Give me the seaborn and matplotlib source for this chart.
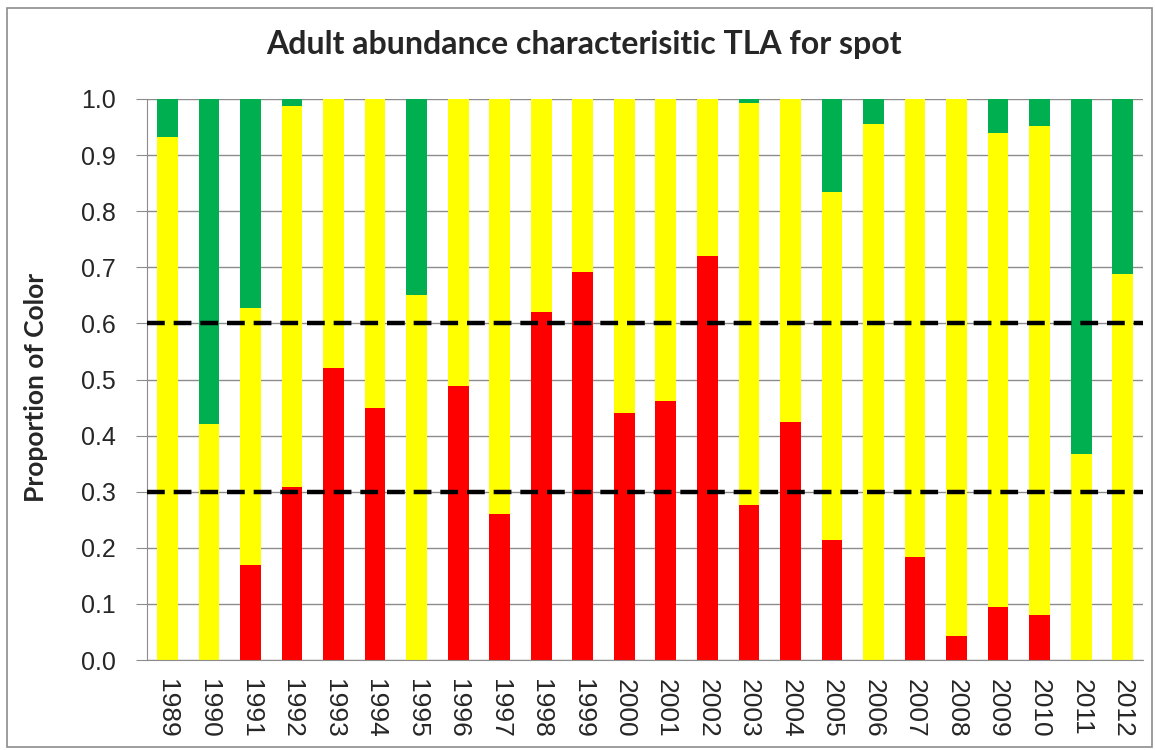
import numpy as np
import pandas as pd
import seaborn as sns
import matplotlib.pyplot as plt

# setup
sns.set_style('white')
plt.rcParams['font.family'] = ['Liberation Sans', 'DejaVu Sans']

# data (proportion of each colour per year)
years = [str(y) for y in range(1989, 2013)]
red = [0.0, 0.0, 0.169, 0.309, 0.520, 0.450, 0.0, 0.489, 0.260, 0.621, 0.691, 0.441,
       0.461, 0.721, 0.277, 0.425, 0.214, 0.0, 0.183, 0.043, 0.095, 0.081, 0.0, 0.0]
yellow = [0.933, 0.421, 0.458, 0.679, 0.480, 0.550, 0.651, 0.511, 0.740, 0.379, 0.309, 0.559,
          0.539, 0.279, 0.715, 0.575, 0.621, 0.955, 0.817, 0.957, 0.845, 0.871, 0.368, 0.688]
green = [0.067, 0.579, 0.373, 0.012, 0.0, 0.0, 0.349, 0.0, 0.0, 0.0, 0.0, 0.0,
         0.0, 0.0, 0.008, 0.0, 0.165, 0.045, 0.0, 0.0, 0.060, 0.048, 0.632, 0.312]
thresholds = [0.3, 0.6]

data = pd.DataFrame({'year': years, 'red': red, 'yellow': yellow, 'green': green})
data['top_red'] = data['red']
data['top_yellow'] = data['red'] + data['yellow']
data['top_green'] = data['top_yellow'] + data['green']

# plot
fig, ax = plt.subplots(figsize=(11.55, 7.5), dpi=100)
fig.subplots_adjust(left=0.127, right=0.99, top=0.868, bottom=0.12)

for col, colour in [('top_green', '#00B050'), ('top_yellow', '#FFFF00'), ('top_red', '#FF0000')]:
    sns.barplot(x='year', y=col, data=data, color=colour, width=0.5,
                saturation=1, edgecolor='none', ax=ax)

for t in thresholds:
    ax.axhline(t, color='black', lw=3.2, ls=(0, (4, 2)), zorder=5)

ax.set_ylim(0, 1.0)
ax.set_xlim(-0.5, len(years) - 0.5)
ax.set_yticks(np.arange(0, 1.01, 0.1))
ax.set_yticklabels([f'{v:.1f}' for v in np.arange(0, 1.01, 0.1)], fontsize=18)
ax.yaxis.grid(True, color='#8c8c8c', lw=1)
ax.set_axisbelow(True)

ax.set_xticks(np.arange(-0.5, len(years), 1.0), minor=True)
ax.set_xticklabels(years, rotation=270, fontsize=19)
ax.tick_params(axis='x', which='major', length=0, pad=14)
ax.tick_params(axis='x', which='minor', length=8, color='#8c8c8c', direction='out')
ax.tick_params(axis='y', length=8, color='#8c8c8c', direction='out', left=True, pad=14)

for side in ['top', 'right']:
    ax.spines[side].set_visible(False)
for side in ['left', 'bottom']:
    ax.spines[side].set_color('#8c8c8c')

ax.set_xlabel('')
ax.set_ylabel('')
fig.text(0.031, 0.483, 'Proportion of Color', rotation=90, ha='center', va='center',
         fontsize=19, fontweight='bold', family=['Lato', 'DejaVu Sans'])
fig.text(0.506, 0.941, 'Adult abundance characterisitic TLA for spot', ha='center',
         va='center', fontsize=23, fontweight='bold', family=['Lato', 'DejaVu Sans'])

# chart border
fig.patches.append(plt.Rectangle((0.006, 0.004), 0.991, 0.986, transform=fig.transFigure,
                                 fill=False, edgecolor='#8c8c8c', lw=1.2))

plt.savefig('out.png', dpi=100)
